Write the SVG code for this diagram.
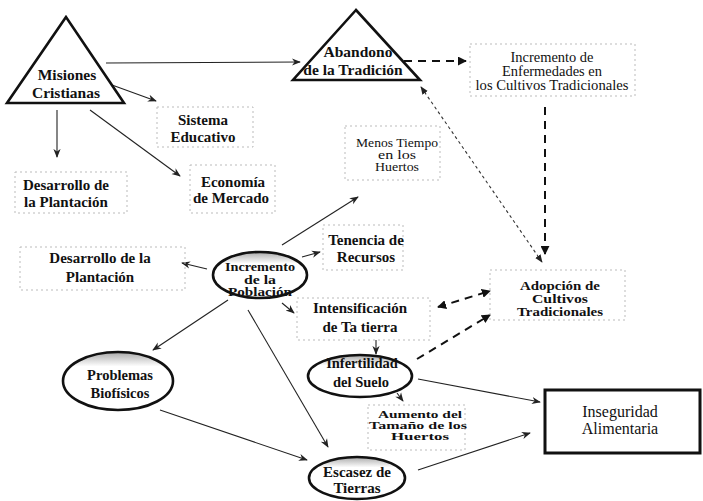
<svg xmlns="http://www.w3.org/2000/svg" width="703" height="501" viewBox="0 0 703 501">
<defs>
<style>
text{font-family:"Liberation Serif","DejaVu Serif","Noto Serif",serif;fill:#111;text-anchor:middle}
.b{font-weight:bold;font-size:15px}
.r{font-size:15px}
.s{font-weight:bold;font-size:10.5px}
.tri{fill:#fff;stroke:#111;stroke-width:2.6;stroke-linejoin:miter}
.ell{stroke:#111;stroke-width:2.6}
.box{fill:none;stroke:#bbb;stroke-width:1;stroke-dasharray:2 3}
.a{fill:none;stroke:#222;stroke-width:1.1;marker-end:url(#ah)}
.d{fill:none;stroke:#111;stroke-width:2;stroke-dasharray:8 6}
.f{fill:none;stroke:#333;stroke-width:1.1;stroke-dasharray:3 3}
</style>
<marker id="ah" viewBox="0 0 10 10" refX="9" refY="5" markerWidth="9" markerHeight="9" markerUnits="userSpaceOnUse" orient="auto"><path d="M0,1 L10,5 L0,9 L3,5 Z" fill="#222"/></marker>
<marker id="dh" viewBox="0 0 10 10" refX="9" refY="5" markerWidth="9" markerHeight="9" markerUnits="userSpaceOnUse" orient="auto-start-reverse"><path d="M0,0 L10,5 L0,10 Z" fill="#111"/></marker>
<marker id="fh" viewBox="0 0 10 10" refX="9" refY="5" markerWidth="8" markerHeight="8" markerUnits="userSpaceOnUse" orient="auto-start-reverse"><path d="M0,1 L10,5 L0,9 Z" fill="#222"/></marker>
<linearGradient id="sh" x1="0" y1="0" x2="0" y2="1">
<stop offset="0" stop-color="#aaa"/><stop offset="0.25" stop-color="#fff"/><stop offset="1" stop-color="#fff"/>
</linearGradient>
</defs>

<g id="connectors">
<line class="a" x1="106" y1="63" x2="300" y2="62"/>
<line class="a" x1="112" y1="85" x2="156" y2="101"/>
<line class="a" x1="57" y1="110" x2="57" y2="157"/>
<line class="a" x1="90" y1="110" x2="180" y2="176"/>
<line class="d" x1="404" y1="61" x2="466" y2="61" marker-end="url(#dh)"/>
<line class="d" x1="545" y1="107" x2="545" y2="254" marker-end="url(#dh)"/>
<line class="f" x1="421" y1="87" x2="542" y2="262" marker-start="url(#fh)" marker-end="url(#fh)"/>
<line class="a" x1="282" y1="245" x2="358" y2="197"/>
<line class="a" x1="302" y1="257" x2="320" y2="252"/>
<line class="a" x1="207" y1="269" x2="182" y2="263"/>
<line class="a" x1="282" y1="303" x2="294" y2="313"/>
<line class="a" x1="228" y1="300" x2="153" y2="350"/>
<line class="a" x1="248" y1="310" x2="328" y2="447"/>
<line class="a" x1="376" y1="340" x2="376" y2="354"/>
<line class="d" x1="438" y1="307" x2="490" y2="291" marker-start="url(#dh)" marker-end="url(#dh)"/>
<line class="d" x1="417" y1="359" x2="490" y2="315" marker-end="url(#dh)"/>
<line class="a" x1="418" y1="379" x2="540" y2="402"/>
<line class="a" x1="397" y1="393" x2="403" y2="401"/>
<line class="a" x1="160" y1="410" x2="307" y2="460"/>
<line class="a" x1="418" y1="470" x2="530" y2="433"/>
</g>

<g id="misiones">
<path class="tri" d="M66,17 L7,103 L124,103 Z"/>
<text class="b" x="67" y="80" style="font-size:15.5px">Misiones</text>
<text class="b" x="66" y="98" style="font-size:15.5px">Cristianas</text>
</g>

<g id="abandono">
<path class="tri" d="M356,10 L293,80 L420,80 Z"/>
<text class="b" x="358" y="57" style="font-size:15.5px">Abandono</text>
<text class="b" x="353" y="75" style="font-size:15.5px">de la Tradición</text>
</g>

<g id="enfermedades">
<rect class="box" x="470" y="44" width="165" height="52"/>
<text class="r" x="552" y="62" style="font-size:14px" textLength="83" lengthAdjust="spacingAndGlyphs">Incremento de</text>
<text class="r" x="552" y="76" style="font-size:14px" textLength="100" lengthAdjust="spacingAndGlyphs">Enfermedades en</text>
<text class="r" x="552" y="90" style="font-size:14px" textLength="153" lengthAdjust="spacingAndGlyphs">los Cultivos Tradicionales</text>
</g>

<g id="sistema">
<rect class="box" x="157" y="107" width="96" height="40"/>
<text class="b" x="203" y="125">Sistema</text>
<text class="b" x="203" y="142">Educativo</text>
</g>

<g id="economia">
<rect class="box" x="190" y="165" width="85" height="48"/>
<text class="b" x="233" y="187">Economía</text>
<text class="b" x="231" y="203">de Mercado</text>
</g>

<g id="desarrollo1">
<rect class="box" x="15" y="172" width="112" height="41"/>
<text class="b" x="66" y="190">Desarrollo de</text>
<text class="b" x="66" y="207">la Plantación</text>
</g>

<g id="menos-tiempo">
<rect class="box" x="345" y="126" width="95" height="54"/>
<text class="r" x="397" y="147" style="font-size:12px" textLength="82" lengthAdjust="spacingAndGlyphs">Menos Tiempo</text>
<text class="r" x="397" y="159" style="font-size:12px" textLength="38" lengthAdjust="spacingAndGlyphs">en los</text>
<text class="r" x="397" y="171" style="font-size:12px" textLength="44" lengthAdjust="spacingAndGlyphs">Huertos</text>
</g>

<g id="desarrollo2">
<rect class="box" x="20" y="247" width="165" height="43"/>
<text class="b" x="100" y="263">Desarrollo de la</text>
<text class="b" x="100" y="282">Plantación</text>
</g>

<g id="poblacion">
<ellipse class="ell" cx="260" cy="275" rx="47" ry="23" fill="url(#sh)"/>
<text class="b" x="260" y="270.5" style="font-size:13px" textLength="70" lengthAdjust="spacingAndGlyphs">Incremento</text>
<text class="b" x="260" y="283.5" style="font-size:13px" textLength="32" lengthAdjust="spacingAndGlyphs">de la</text>
<text class="b" x="260" y="296" style="font-size:13px" textLength="64" lengthAdjust="spacingAndGlyphs">Población</text>
</g>

<g id="tenencia">
<rect class="box" x="323" y="225" width="80" height="45"/>
<text class="b" x="366" y="245">Tenencia de</text>
<text class="b" x="366" y="262">Recursos</text>
</g>

<g id="intensificacion">
<rect class="box" x="297" y="298" width="133" height="42"/>
<text class="b" x="360" y="313">Intensificación</text>
<text class="b" x="360" y="332">de Ta tierra</text>
</g>

<g id="adopcion">
<rect class="box" x="490" y="270" width="135" height="50"/>
<text class="b" x="560" y="289.5" style="font-size:13px" textLength="80" lengthAdjust="spacingAndGlyphs">Adopción de</text>
<text class="b" x="560" y="302.5" style="font-size:13px" textLength="56" lengthAdjust="spacingAndGlyphs">Cultivos</text>
<text class="b" x="560" y="315.5" style="font-size:13px" textLength="86" lengthAdjust="spacingAndGlyphs">Tradicionales</text>
</g>

<g id="infertilidad">
<ellipse class="ell" cx="360" cy="376" rx="52" ry="21" fill="url(#sh)"/>
<text class="b" x="362" y="368" style="font-size:14.5px">Infertilidad</text>
<text class="b" x="361" y="387" style="font-size:14.5px">del Suelo</text>
</g>

<g id="aumento">
<rect class="box" x="368" y="405" width="97" height="45"/>
<text class="s" x="420" y="418" textLength="84" lengthAdjust="spacingAndGlyphs">Aumento del</text>
<text class="s" x="418" y="429" textLength="98" lengthAdjust="spacingAndGlyphs">Tamaño de los</text>
<text class="s" x="420" y="440" textLength="58" lengthAdjust="spacingAndGlyphs">Huertos</text>
</g>

<g id="problemas">
<ellipse class="ell" cx="118" cy="381" rx="55" ry="29" fill="url(#sh)"/>
<text class="b" x="120" y="380" style="font-size:14.5px">Problemas</text>
<text class="b" x="120" y="398" style="font-size:14.5px">Biofísicos</text>
</g>

<g id="escasez">
<ellipse class="ell" cx="357" cy="478" rx="48" ry="21" fill="url(#sh)"/>
<text class="b" x="357" y="477">Escasez de</text>
<text class="b" x="357" y="493">Tierras</text>
</g>

<g id="inseguridad">
<rect x="545" y="390" width="155" height="63" fill="#fff" stroke="#111" stroke-width="3"/>
<text class="r" x="620" y="417" style="font-size:16px">Inseguridad</text>
<text class="r" x="620" y="434" style="font-size:16px">Alimentaria</text>
</g>
</svg>
